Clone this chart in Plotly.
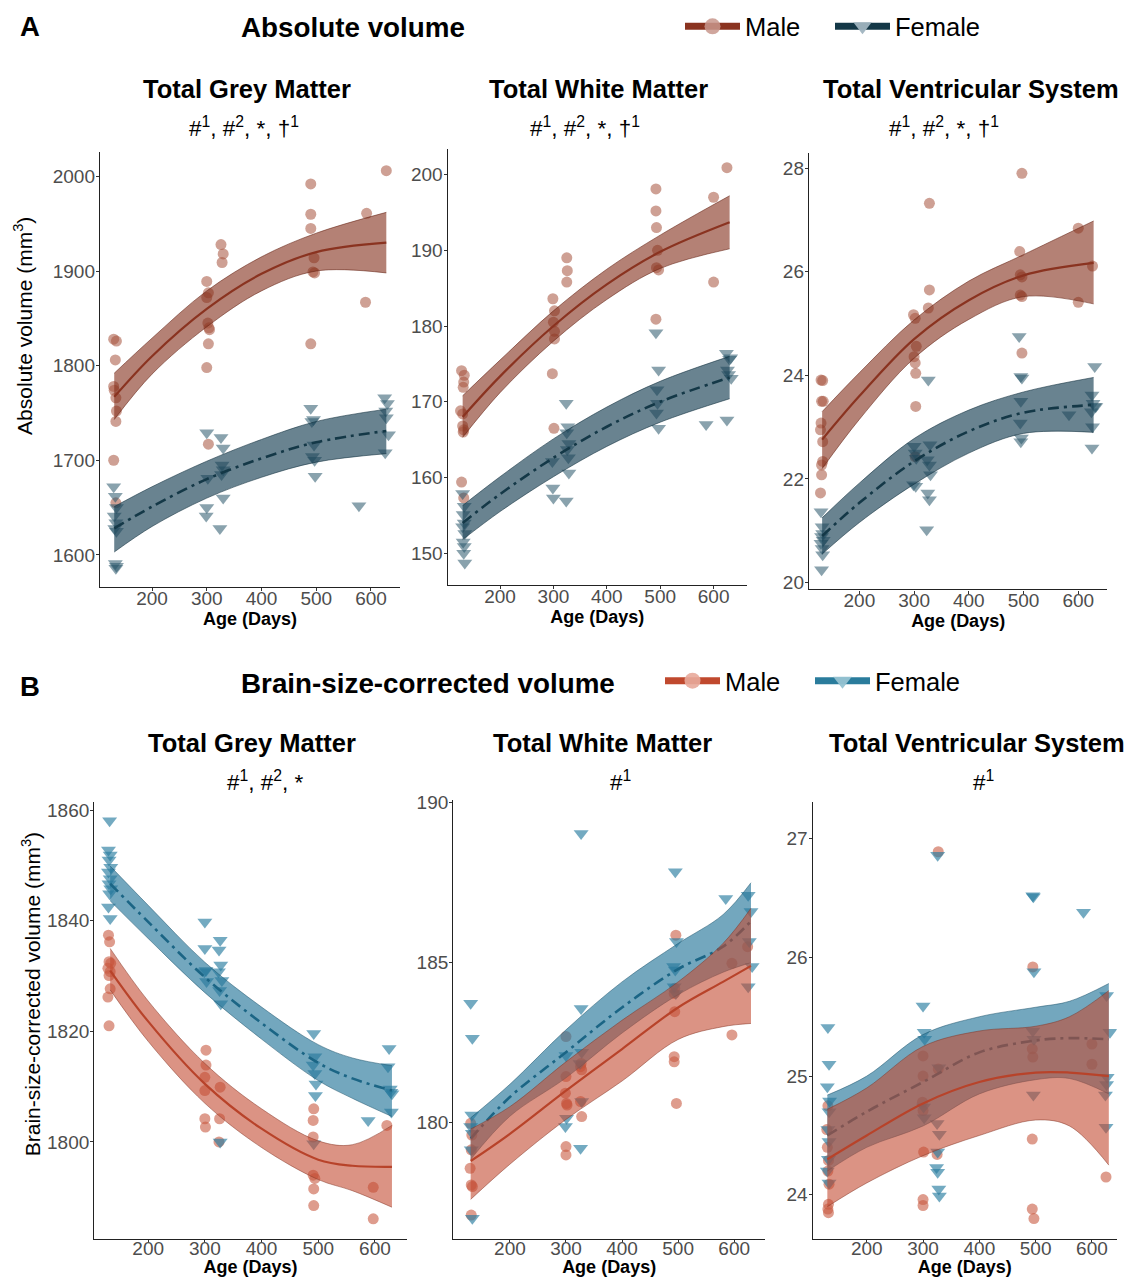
import plotly.graph_objects as go

W, H = 1127, 1277

# ----------------------------- DATA -----------------------------
# Panel A1: Total Grey Matter, absolute volume
a1_m_age = [130,135,133,130,131,134,135,134,130,134, 300,303,300,302,304,305,303,300,303, 326,330,328, 490,490,490,496,494,497,490, 592,590, 628]
a1_m_val = [1828,1826,1806,1778,1774,1766,1752,1741,1700,1655, 1889,1877,1872,1845,1840,1838,1823,1798,1717, 1928,1918,1909, 1992,1960,1945,1914,1899,1898,1823, 1961,1867, 2006]
a1_f_age = [130,133,135,131,134,132,135,133,135,134, 300,302,300,299, 326,330,328,330,327,330,324, 490,495,492,496,493,497,498, 578, 625,630,627,628,632,626]
a1_f_val = [1672,1662,1650,1641,1634,1628,1625,1591,1588,1586, 1729,1681,1650,1641, 1724,1713,1695,1690,1685,1660,1628, 1755,1743,1741,1716,1704,1700,1683, 1652, 1766,1760,1752,1745,1727,1708]
a1_fit_age = [131, 200, 300, 400, 500, 628]
a1_m_fit = [1767, 1810, 1860, 1897, 1920, 1930]
a1_m_lo = [1743, 1791, 1841, 1879, 1900, 1898]
a1_m_hi = [1792, 1829, 1879, 1915, 1940, 1962]
a1_f_fit = [1628, 1651, 1680, 1702, 1719, 1731]
a1_f_lo = [1603, 1630, 1660, 1682, 1698, 1707]
a1_f_hi = [1651, 1672, 1699, 1722, 1741, 1754]

# Panel A2: Total White Matter, absolute volume
a2_m_age = [128,133,132,131,126,130,130,132,131,128,132, 299,302,300,302,302,298,301, 325,326,325, 492,492,493,495,493,497,492, 600,600, 625]
a2_m_val = [174.1,173.5,172.6,171.9,168.8,168.4,166.8,166.3,166.0,159.4,157.3, 183.6,182.0,180.5,179.3,178.3,173.7,166.5, 189.0,187.3,185.8, 198.1,195.2,193.0,190.0,187.7,187.4,180.9, 197.0,185.8, 200.9]
a2_f_age = [130,133,131,133,130,134,131,133,132,134, 298,299,300, 324,327,325,329,326,328,329,324, 492,497,494,495,493,497, 586, 624,630,628,626,625,632,633]
a2_f_val = [157.9,156.2,155.1,154.0,153.5,152.6,151.5,150.9,150.0,148.7, 162.1,158.6,157.3, 169.8,166.7,165.9,164.5,163.7,162.6,160.6,156.9, 179.1,174.2,171.6,169.8,168.5,166.5, 167.0, 176.4,175.6,173.6,174.2,167.6,175.8,173.1]
a2_fit_age = [130, 200, 300, 400, 500, 630]
a2_m_fit = [168.0, 173.35, 180.0, 185.5, 189.8, 193.7]
a2_m_lo = [165.3, 171.2, 178.0, 183.5, 187.6, 190.2]
a2_m_hi = [170.8, 175.5, 182.0, 187.5, 192.0, 197.2]
a2_f_fit = [154.0, 157.8, 162.6, 166.7, 170.0, 173.2]
a2_f_lo = [151.8, 155.5, 160.1, 164.1, 167.3, 170.4]
a2_f_hi = [156.3, 160.1, 165.1, 169.3, 172.7, 176.0]

# Panel A3: Total Ventricular System, absolute volume
a3_m_age = [130,133,131,134,130,129,133,133,131,131,129, 299,302,304,300,302,303,303,302, 328,328,326, 497,493,494,497,494,497,497, 600,600, 626]
a3_m_val = [23.91,23.9,23.5,23.5,23.08,22.95,22.72,22.34,22.27,22.08,21.73, 25.17,25.1,24.56,24.36,24.24,24.04,23.4,22.43, 27.32,25.65,25.3, 27.9,26.39,25.94,25.9,25.55,25.52,24.43, 26.84,25.41, 26.11]
a3_f_age = [130,132,133,131,134,130,132,133,131, 300,302,299,303,304, 326,329,324,328,330,325,328,323, 492,495,497,495,494,496,495, 583, 630,625,627,630,624,626,625,632]
a3_f_val = [21.37,21.08,20.95,20.89,20.82,20.76,20.66,20.54,20.25, 22.63,22.5,21.89,21.86,22.4, 23.91,22.66,22.37,22.27,22.08,21.73,21.6,21.02, 24.75,23.98,23.95,23.5,23.08,22.79,22.72, 23.24, 24.17,23.62,23.46,23.4,23.3,23.01,22.6,23.4]
a3_fit_age = [132, 200, 300, 400, 500, 628]
a3_m_fit = [22.76, 23.6, 24.7, 25.45, 25.93, 26.17]
a3_m_lo = [22.2, 23.15, 24.33, 25.08, 25.52, 25.38]
a3_m_hi = [23.3, 24.05, 25.07, 25.82, 26.33, 26.98]
a3_f_fit = [20.9, 21.54, 22.34, 22.92, 23.28, 23.43]
a3_f_lo = [20.55, 21.16, 21.9, 22.5, 22.88, 22.9]
a3_f_hi = [21.25, 21.92, 22.78, 23.33, 23.68, 23.96]

# Panel B1: Total Grey Matter, brain-size-corrected volume
b1_m_age = [130,132,131,134,129,133,131,133,129,131, 302,302,300,300,300,301, 327,326,325, 492,491,491,491,494,492,492, 597,597, 621]
b1_m_val = [1837.4,1836.2,1832.6,1832.3,1831.4,1830.8,1830.1,1827.7,1826.2,1821.0, 1816.6,1813.9,1811.7,1809.3,1804.2,1802.7, 1809.9,1804.2,1800.0, 1806.0,1803.9,1800.9,1794.0,1793.4,1791.5,1788.5, 1791.8,1786.1, 1803.0]
b1_f_age = [132,130,133,131,134,130,133,131,134,132,130,133, 300,300,302,299,303, 327,325,328,324,330,326,328,327, 492,494,491,494,496,495,492, 588, 625,623,627,628,630,629]
b1_f_val = [1858.1,1852.8,1851.9,1851.0,1849.7,1848.8,1847.6,1846.7,1845.8,1844.9,1842.5,1840.4, 1839.8,1835.0,1831.0,1830.8,1829.0, 1836.5,1834.7,1832.0,1830.8,1829.2,1827.4,1825.0,1800.0, 1819.6,1815.4,1813.9,1812.4,1810.5,1808.4,1799.7, 1803.9, 1816.9,1813.6,1809.6,1809.0,1808.7,1805.4]
b1_fit_age = [133, 200, 300, 400, 500, 560, 630]
b1_m_fit = [1831.0, 1821.8, 1810.5, 1802.4, 1796.8, 1795.7, 1795.5]
b1_m_lo = [1827.5, 1818.2, 1807.0, 1799.0, 1793.2, 1791.2, 1788.2]
b1_m_hi = [1835.0, 1825.5, 1814.2, 1806.0, 1800.2, 1799.5, 1803.0]
b1_f_fit = [1846.7, 1839.8, 1829.8, 1821.5, 1814.3, 1811.5, 1809.3]
b1_f_lo = [1843.6, 1836.8, 1827.0, 1818.6, 1811.1, 1807.9, 1804.6]
b1_f_hi = [1849.9, 1842.8, 1832.5, 1824.4, 1817.6, 1815.2, 1813.8]

# Panel B2: Total White Matter, brain-size-corrected volume
b2_m_age = [130,132,131,129,131,133,131, 300,300,299,301,302,300,300, 327,326,328,326,328, 496,494,493,494,493,493,497, 596,596, 624]
b2_m_val = [179.98,179.61,179.15,178.57,178.05,178.0,177.11, 182.69,181.44,180.92,180.6,180.55,179.25,178.99, 181.85,181.75,181.65,180.66,180.19, 185.86,184.2,184.04,183.47,182.06,181.9,180.6, 184.98,182.74, 185.5]
b2_f_age = [130,133,132,130,133,131,133, 300,299,301, 327,327,328,328,326,325, 495,497,492,495,493,496, 585, 625,630,627,632,625]
b2_f_val = [183.73,182.64,180.24,179.88,179.67,179.15,177.01, 182.1,179.88,180.14, 189.04,183.57,182.2,180.66,179.2,181.85, 187.84,185.66,184.88,184.77,184.25,184.04, 187.01, 187.11,186.6,185.66,184.88,184.25]
b2_fit_age = [130, 200, 300, 400, 500, 580, 630]
b2_m_fit = [178.8, 179.65, 181.0, 182.3, 183.6, 184.4, 184.9]
b2_m_lo = [177.6, 178.7, 180.1, 181.3, 182.6, 183.0, 183.1]
b2_m_hi = [179.8, 180.5, 181.9, 183.2, 184.4, 185.6, 186.7]
b2_f_fit = [179.5, 180.8, 182.2, 183.6, 184.8, 185.5, 186.3]
b2_f_lo = [178.85, 180.2, 181.4, 182.8, 184.0, 184.7, 185.0]
b2_f_hi = [180.15, 181.2, 182.9, 184.4, 185.6, 186.5, 187.5]

# Panel B3: Total Ventricular System, brain-size-corrected volume
b3_m_age = [131,129,130,132,131,133,132,131,132, 300,300,299,300,301,300,300, 327,327,325, 495,494,495,494,494,497, 600,600, 625]
b3_m_val = [24.75,24.55,24.4,24.29,24.2,24.09,23.92,23.88,23.85, 25.17,25.0,24.78,24.71,24.36,23.96,23.91, 26.89,25.06,24.34, 25.92,25.23,25.16,24.47,23.88,23.8, 25.27,25.1, 24.15]
b3_f_age = [131,133,130,134,133,131,133,132,130,133, 300,302,303,301,302, 326,328,325,329,326,324,326,328,329, 495,496,497,495,497,496, 585, 626,632,627,626,624,625]
b3_f_val = [25.41,25.1,24.91,24.79,24.7,24.55,24.45,24.3,24.2,24.1, 25.59,25.37,25.31,24.74,24.65, 26.86,25.07,24.6,24.51,24.36,24.23,24.19,24.05,23.99, 26.52,26.51,25.88,25.38,25.31,24.84, 26.38, 25.68,25.37,24.99,24.93,24.84,24.57]
b3_fit_age = [130, 200, 300, 400, 500, 560, 630]
b3_m_fit = [24.3, 24.5, 24.77, 24.95, 25.03, 25.03, 25.0]
b3_m_lo = [23.9, 24.1, 24.33, 24.5, 24.63, 24.58, 24.25]
b3_m_hi = [24.72, 24.9, 25.25, 25.38, 25.42, 25.5, 25.72]
b3_f_fit = [24.5, 24.7, 24.95, 25.2, 25.3, 25.32, 25.31]
b3_f_lo = [24.2, 24.4, 24.58, 24.85, 24.97, 24.98, 24.85]
b3_f_hi = [24.84, 25.0, 25.35, 25.5, 25.58, 25.63, 25.78]

x_ticks = [200, 300, 400, 500, 600]

# ----------------------------- STYLE -----------------------------
FONT = "Liberation Sans, Arial, Helvetica, sans-serif"
STY_A = dict(m_pt="rgba(166,82,60,0.55)", f_pt="rgba(40,85,105,0.55)",
             m_band="rgba(130,45,25,0.6)", f_band="rgba(25,65,85,0.65)",
             m_edge="rgba(100,35,20,0.8)", f_edge="rgba(15,45,60,0.8)",
             m_line="#8a3320", f_line="#143847")
STY_B = dict(m_pt="rgba(200,90,65,0.6)", f_pt="rgba(40,125,160,0.65)",
             m_band="rgba(195,75,50,0.6)", f_band="rgba(40,120,155,0.65)",
             m_edge="rgba(130,50,35,0.7)", f_edge="rgba(25,80,105,0.7)",
             m_line="#b8432a", f_line="#1b6585")

def px(x):
    return x / W

def py(y):
    # small vertical calibration of the rendered page
    y = (y - 8.3) / 0.99
    return 1 - y / H

panels = [
    dict(d=(a1_m_age, a1_m_val, a1_f_age, a1_f_val, a1_fit_age, a1_m_fit, a1_m_lo, a1_m_hi, a1_f_fit, a1_f_lo, a1_f_hi),
         dx=(100, 400), dy=(152, 587), xr=(105, 653), yr=(1566, 2026), yt=[1600, 1700, 1800, 1900, 2000], sty=STY_A, lso=-9),
    dict(d=(a2_m_age, a2_m_val, a2_f_age, a2_f_val, a2_fit_age, a2_m_fit, a2_m_lo, a2_m_hi, a2_f_fit, a2_f_lo, a2_f_hi),
         dx=(447.7, 746.7), dy=(149, 585), xr=(102, 662), yr=(145.8, 203.4), yt=[150, 160, 170, 180, 190, 200], sty=STY_A, lso=-9),
    dict(d=(a3_m_age, a3_m_val, a3_f_age, a3_f_val, a3_fit_age, a3_m_fit, a3_m_lo, a3_m_hi, a3_f_fit, a3_f_lo, a3_f_hi),
         dx=(809, 1107.3), dy=(153.3, 589.3), xr=(108, 653), yr=(19.87, 28.29), yt=[20, 22, 24, 26, 28], sty=STY_A, lso=-9),
    dict(d=(b1_m_age, b1_m_val, b1_f_age, b1_f_val, b1_fit_age, b1_m_fit, b1_m_lo, b1_m_hi, b1_f_fit, b1_f_lo, b1_f_hi),
         dx=(94.3, 406.7), dy=(801.7, 1238.3), xr=(105, 656), yr=(1782.5, 1861.5), yt=[1800, 1820, 1840, 1860], sty=STY_B, lso=-11),
    dict(d=(b2_m_age, b2_m_val, b2_f_age, b2_f_val, b2_fit_age, b2_m_fit, b2_m_lo, b2_m_hi, b2_f_fit, b2_f_lo, b2_f_hi),
         dx=(453.3, 765), dy=(800, 1238.3), xr=(99, 655), yr=(176.37, 190.08), yt=[180, 185, 190], sty=STY_B, lso=-11),
    dict(d=(b3_m_age, b3_m_val, b3_f_age, b3_f_val, b3_fit_age, b3_m_fit, b3_m_lo, b3_m_hi, b3_f_fit, b3_f_lo, b3_f_hi),
         dx=(812.7, 1116.7), dy=(801.7, 1238.3), xr=(104, 644), yr=(23.63, 27.31), yt=[24, 25, 26, 27], sty=STY_B, lso=-11),
]

fig = go.Figure()
layout_axes = {}

def band_traces(xs, lo, hi, fill, edge, xa, ya):
    return [
        go.Scatter(x=xs, y=hi, mode="lines", line=dict(color=edge, width=0.7, shape="spline"),
                   xaxis=xa, yaxis=ya, showlegend=False, hoverinfo="skip"),
        go.Scatter(x=xs, y=lo, mode="lines", line=dict(color=edge, width=0.7, shape="spline"),
                   fill="tonexty", fillcolor=fill, xaxis=xa, yaxis=ya, showlegend=False, hoverinfo="skip"),
    ]

for i, p in enumerate(panels):
    n = i + 1
    xa, ya = f"x{n}", f"y{n}"
    (m_age, m_val, f_age, f_val, fx, m_fit, m_lo, m_hi, f_fit, f_lo, f_hi) = p["d"]
    s = p["sty"]
    fig.add_trace(go.Scatter(x=m_age, y=m_val, mode="markers", xaxis=xa, yaxis=ya, showlegend=False,
                             marker=dict(symbol="circle", size=11, color=s["m_pt"], line=dict(width=0))))
    fig.add_trace(go.Scatter(x=f_age, y=f_val, mode="markers", xaxis=xa, yaxis=ya, showlegend=False,
                             marker=dict(symbol="triangle-down", size=13, color=s["f_pt"], line=dict(width=0))))
    for t in band_traces(fx, f_lo, f_hi, s["f_band"], s["f_edge"], xa, ya):
        fig.add_trace(t)
    fig.add_trace(go.Scatter(x=fx, y=f_fit, mode="lines", xaxis=xa, yaxis=ya, showlegend=False,
                             line=dict(color=s["f_line"], width=2.6, dash="11px,5px,3px,5px", shape="spline")))
    for t in band_traces(fx, m_lo, m_hi, s["m_band"], s["m_edge"], xa, ya):
        fig.add_trace(t)
    fig.add_trace(go.Scatter(x=fx, y=m_fit, mode="lines", xaxis=xa, yaxis=ya, showlegend=False,
                             line=dict(color=s["m_line"], width=2.2, shape="spline")))

    kx = "xaxis" if n == 1 else f"xaxis{n}"
    ky = "yaxis" if n == 1 else f"yaxis{n}"
    layout_axes[kx] = dict(
        domain=[px(p["dx"][0]), px(p["dx"][1])], range=list(p["xr"]), anchor=ya,
        tickvals=x_ticks, ticks="outside", ticklen=3, tickcolor="#333333", tickwidth=1,
        ticklabelstandoff=p["lso"],
        showline=True, linecolor="#222222", linewidth=1.4, showgrid=False, zeroline=False,
        tickfont=dict(family=FONT, size=19, color="#4d4d4d"),
        title=dict(text="Age (Days)", standoff=0, font=dict(family=FONT, size=18, color="black", weight="bold")),
    )
    layout_axes[ky] = dict(
        domain=[py(p["dy"][1]), py(p["dy"][0])], range=list(p["yr"]), anchor=xa,
        tickvals=p["yt"], ticks="outside", ticklen=3, tickcolor="#333333", tickwidth=1,
        ticklabelstandoff=-3,
        showline=True, linecolor="#222222", linewidth=1.4, showgrid=False, zeroline=False,
        tickfont=dict(family=FONT, size=19, color="#4d4d4d"),
    )

# legend entries
fig.add_trace(go.Scatter(x=[None], y=[None], mode="lines+markers", name="Male", legend="legend",
                         line=dict(color="#8a3320", width=7),
                         marker=dict(symbol="circle", size=16, color="rgba(200,150,140,0.85)", line=dict(width=0))))
fig.add_trace(go.Scatter(x=[None], y=[None], mode="lines+markers", name="Female", legend="legend",
                         line=dict(color="#143847", width=7),
                         marker=dict(symbol="triangle-down", size=16, color="rgba(160,180,192,0.95)", line=dict(width=0))))
fig.add_trace(go.Scatter(x=[None], y=[None], mode="lines+markers", name="Male", legend="legend2",
                         line=dict(color="#c0492e", width=7),
                         marker=dict(symbol="circle", size=16, color="rgba(232,170,155,0.9)", line=dict(width=0))))
fig.add_trace(go.Scatter(x=[None], y=[None], mode="lines+markers", name="Female", legend="legend2",
                         line=dict(color="#2a7c9c", width=7),
                         marker=dict(symbol="triangle-down", size=16, color="rgba(150,195,210,0.95)", line=dict(width=0))))

sup_a = "#<sup>1</sup>, #<sup>2</sup>, *, †<sup>1</sup>"
annotations = []

def ann(text, x, y, size, bold=True, xanchor="center", angle=0):
    annotations.append(dict(text=text, x=px(x), y=py(y), xref="paper", yref="paper", showarrow=False,
                            xanchor=xanchor, yanchor="middle", textangle=angle,
                            font=dict(family=FONT, size=size, color="black", weight="bold" if bold else "normal")))

ann("A", 18, 27, 27.5, xanchor="left")
ann("Absolute volume", 353, 28, 27.8)
ann("B", 18, 686, 27.5, xanchor="left")
ann("Brain-size-corrected volume", 428, 683, 27.8)

ann("Total Grey Matter", 247, 89, 25.5)
ann("Total White Matter", 598, 89, 25.5)
ann("Total Ventricular System", 971, 89, 25.5)
ann(sup_a, 244, 127, 22.5, bold=False)
ann(sup_a, 585, 127, 22.5, bold=False)
ann(sup_a, 944, 127, 22.5, bold=False)

ann("Total Grey Matter", 252, 743, 25.5)
ann("Total White Matter", 603, 743, 25.5)
ann("Total Ventricular System", 977, 743, 25.5)
ann("#<sup>1</sup>, #<sup>2</sup>, *", 265, 781, 22.5, bold=False)
ann("#<sup>1</sup>", 621, 781, 22.5, bold=False)
ann("#<sup>1</sup>", 983, 781, 22.5, bold=False)

# y-axis titles (placed as in the reference, slightly above panel centre)
ann("Absolute volume (mm<sup>3</sup>)", 23, 326, 21, bold=False, angle=-90)
ann("Brain-size-corrected volume (mm<sup>3</sup>)", 31, 994, 21, bold=False, angle=-90)

fig.update_layout(
    width=W, height=H, autosize=False,
    margin=dict(l=0, r=0, t=0, b=0),
    paper_bgcolor="white", plot_bgcolor="white",
    font=dict(family=FONT, color="black"),
    annotations=annotations,
    legend=dict(x=px(680), y=py(27), xanchor="left", yanchor="middle", orientation="h",
                font=dict(family=FONT, size=25.5, color="black"), bgcolor="rgba(0,0,0,0)",
                itemwidth=55, entrywidth=80, entrywidthmode="pixels", traceorder="normal"),
    legend2=dict(x=px(660), y=py(681), xanchor="left", yanchor="middle", orientation="h",
                 font=dict(family=FONT, size=25.5, color="black"), bgcolor="rgba(0,0,0,0)",
                 itemwidth=55, entrywidth=80, entrywidthmode="pixels", traceorder="normal"),
    **layout_axes,
)

fig.write_html("out.html", config={"displayModeBar": False},
               post_script="document.body.style.margin='0';document.body.style.padding='0';"
                           "document.documentElement.style.overflow='hidden';")
